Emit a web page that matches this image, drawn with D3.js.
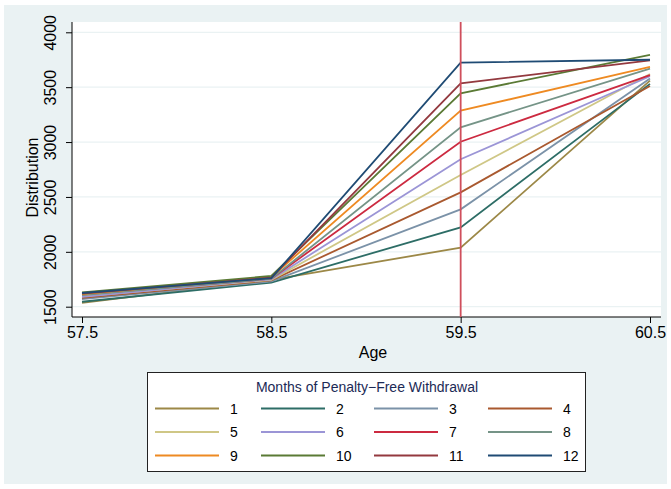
<!DOCTYPE html>
<html>
<head>
<meta charset="utf-8">
<script src="https://cdn.jsdelivr.net/npm/d3@7"></script>
<style>
  html, body { margin: 0; padding: 0; background: #ffffff; }
  svg { display: block; font-family: "Liberation Sans", Arial, Helvetica, sans-serif; }
</style>
</head>
<body>
<svg id="chart" width="671" height="489"></svg>
<script>
// ---- data ----
const ages = [57.5, 58.5, 59.5, 60.5];
const seriesNames = ["1","2","3","4","5","6","7","8","9","10","11","12"];
const s1  = [1535, 1745, 2038, 3560];
const s2  = [1545, 1720, 2223, 3530];
const s3  = [1570, 1730, 2387, 3580];
const s4  = [1580, 1740, 2542, 3510];
const s5  = [1595, 1745, 2700, 3620];
const s6  = [1590, 1750, 2843, 3600];
const s7  = [1610, 1755, 3003, 3610];
const s8  = [1605, 1755, 3134, 3670];
const s9  = [1615, 1770, 3286, 3685];
const s10 = [1630, 1780, 3444, 3795];
const s11 = [1620, 1765, 3535, 3745];
const s12 = [1625, 1760, 3723, 3750];
const seriesValues = [s1,s2,s3,s4,s5,s6,s7,s8,s9,s10,s11,s12];
const seriesColors = ["#9c8847","#2d6d66","#7b92a8","#a9592f","#cfc786","#9b95d6",
                      "#cc2a40","#759487","#ee8a22","#5a7a35","#93393f","#1f4b74"];
const yTicks = [1500, 2000, 2500, 3000, 3500, 4000];
const xTicks = [57.5, 58.5, 59.5, 60.5];
const xLineAt = 59.5;
const legendTitle = "Months of Penalty\u2212Free Withdrawal";

// ---- layout ----
const svg = d3.select("#chart");
svg.append("rect").attr("x", 4).attr("y", 5).attr("width", 663).attr("height", 479).attr("fill", "#eaf2f3");

const plot = { left: 72, right: 661, top: 22, bottom: 317 };
svg.append("rect").attr("x", plot.left).attr("y", plot.top)
   .attr("width", plot.right - plot.left).attr("height", plot.bottom - plot.top).attr("fill", "#ffffff");

const x = d3.scaleLinear().domain([57.5, 60.5]).range([82, 650]);
const y = d3.scaleLinear().domain([1500, 4000]).range([306.7, 32.3]);

// grid lines
svg.append("g").selectAll("line").data(yTicks).join("line")
  .attr("x1", plot.left).attr("x2", plot.right)
  .attr("y1", d => y(d)).attr("y2", d => y(d))
  .attr("stroke", "#eaf2f3").attr("stroke-width", 1.2);

// y axis
const yAxis = svg.append("g").attr("transform", `translate(${plot.left},0)`)
  .call(d3.axisLeft(y).tickValues(yTicks).tickSize(6).tickSizeOuter(0).tickFormat(d3.format("d")));
yAxis.select(".domain").attr("d", `M0,${plot.top}V${plot.bottom}`).attr("stroke", "#000");
yAxis.selectAll(".tick line").attr("stroke", "#000");
yAxis.selectAll(".tick text")
  .attr("font-size", 16).attr("fill", "#000")
  .attr("text-anchor", "middle")
  .attr("transform", "translate(-16,0) rotate(-90)")
  .attr("x", 0).attr("y", 0).attr("dy", "0");

// x axis
const xAxis = svg.append("g").attr("transform", `translate(0,${plot.bottom})`)
  .call(d3.axisBottom(x).tickValues(xTicks).tickSize(6).tickSizeOuter(0).tickFormat(d3.format(".1f")));
xAxis.select(".domain").attr("d", `M${plot.left},0H${plot.right}`).attr("stroke", "#000");
xAxis.selectAll(".tick line").attr("stroke", "#000");
xAxis.selectAll(".tick text").attr("font-size", 16).attr("fill", "#000").attr("y", 10).attr("dy", "0.71em");

// axis titles
svg.append("text").attr("x", 373).attr("y", 358).attr("text-anchor", "middle")
  .attr("font-size", 16).attr("fill", "#000").text("Age");
svg.append("text").attr("transform", `translate(38,${(plot.top + plot.bottom) / 2 + 8}) rotate(-90)`)
  .attr("text-anchor", "middle").attr("font-size", 16).attr("fill", "#000").text("Distribution");

// series lines
const line = d3.line().x((d, i) => x(ages[i])).y(d => y(d));
svg.append("g").selectAll("path").data(seriesValues).join("path")
  .attr("d", d => line(d)).attr("fill", "none")
  .attr("stroke", (d, i) => seriesColors[i]).attr("stroke-width", 1.8);

// vertical reference line
svg.append("line").attr("x1", x(xLineAt)).attr("x2", x(xLineAt))
  .attr("y1", plot.top).attr("y2", plot.bottom)
  .attr("stroke", "#cf4f5c").attr("stroke-width", 1.8);

// legend
const lg = svg.append("g");
lg.append("rect").attr("x", 147.5).attr("y", 372.5).attr("width", 438).attr("height", 99)
  .attr("fill", "#ffffff").attr("stroke", "#222").attr("stroke-width", 1);
lg.append("text").attr("x", 367).attr("y", 392).attr("text-anchor", "middle")
  .attr("font-size", 14).attr("fill", "#1c2a56").text(legendTitle);
const colX = [155, 261, 374, 488];
const rowY = [408.5, 432, 455.5];
seriesNames.forEach((name, i) => {
  const cx = colX[i % 4], cy = rowY[Math.floor(i / 4)];
  lg.append("line").attr("x1", cx).attr("x2", cx + 64).attr("y1", cy).attr("y2", cy)
    .attr("stroke", seriesColors[i]).attr("stroke-width", 1.8);
  lg.append("text").attr("x", cx + 75).attr("y", cy + 5).attr("font-size", 14)
    .attr("fill", "#000").text(name);
});
</script>
</body>
</html>
